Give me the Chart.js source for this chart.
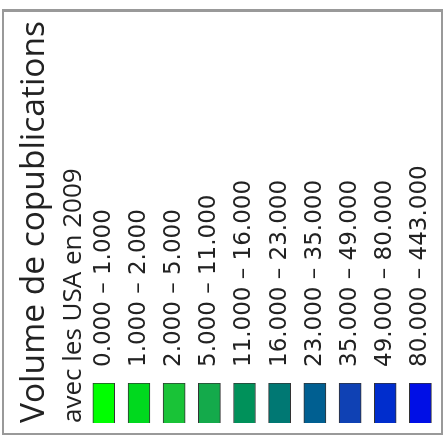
<!DOCTYPE html>
<html>
<head>
<meta charset="utf-8">
<script src="https://cdn.jsdelivr.net/npm/chart.js@4"></script>
<style>
  html, body { margin: 0; padding: 0; background: #fff; overflow: hidden; }
  body { width: 445px; height: 439px; position: relative; }
  #frame {
    position: absolute; left: 2px; top: 9px; width: 441px; height: 426px;
    box-sizing: border-box; border: 2px solid #999; border-top-width: 3px;
  }
  #wrap {
    position: absolute; left: 0; top: 0; width: 439px; height: 445px;
    transform-origin: 0 0; transform: translate(0, 439px) rotate(-90deg);
  }
</style>
</head>
<body>
<div id="frame"></div>
<div id="wrap"><canvas id="legendChart" width="439" height="445"></canvas></div>
<script>
// legend classes (copublications with the USA, 2009)
const classes = ['0.000 – 1.000', '1.000 – 2.000', '2.000 – 5.000', '5.000 – 11.000',
  '11.000 – 16.000', '16.000 – 23.000', '23.000 – 35.000', '35.000 – 49.000',
  '49.000 – 80.000', '80.000 – 443.000'];
const swatchValues = [1, 1, 1, 1, 1, 1, 1, 1, 1, 1];
const classColors = ['#00ff00', '#00d91e', '#19c337', '#14aa4b', '#00915a',
  '#007873', '#005f91', '#0f41b4', '#002dcd', '#000fe6'];

const ctx = document.getElementById('legendChart').getContext('2d');
const legendChart = new Chart(ctx, {
    type: 'bar',
    data: {
        labels: classes,
        datasets: [{
            data: swatchValues,
            backgroundColor: classColors,
            borderColor: '#333',
            borderWidth: 1,
            barThickness: 22
        }]
    },
    options: {
        responsive: false,
        animation: false,
        indexAxis: 'y',
        layout: { padding: { left: 16, right: 0, top: 0, bottom: 7 } },
        plugins: {
            legend: { display: false },
            tooltip: { enabled: false },
            title: {
                display: true,
                text: 'Volume de copublications',
                align: 'start',
                color: '#222',
                font: { family: 'Open Sans', size: 33.5, weight: 'normal', lineHeight: 1.2 },
                padding: { top: 14, bottom: 0 }
            },
            subtitle: {
                display: true,
                text: 'avec les USA en 2009',
                align: 'start',
                color: '#222',
                font: { family: 'Open Sans', size: 26, weight: 'normal', lineHeight: 1.0 },
                padding: { top: 6, bottom: 0 }
            }
        },
        scales: {
            x: { display: false, min: 0, max: 1 },
            y: {
                position: 'right',
                grid: { display: false, drawTicks: false },
                border: { display: false },
                ticks: {
                    color: '#222',
                    padding: 16,
                    font: { family: 'DejaVu Sans', size: 23 }
                },
                afterFit: (scale) => {
                    // fixed width so the swatches end where the labels begin
                    scale.width = 439 - 56;
                    scale.paddingTop = 0;
                    scale.paddingBottom = 0;
                }
            }
        }
    }
});
</script>
</body>
</html>
